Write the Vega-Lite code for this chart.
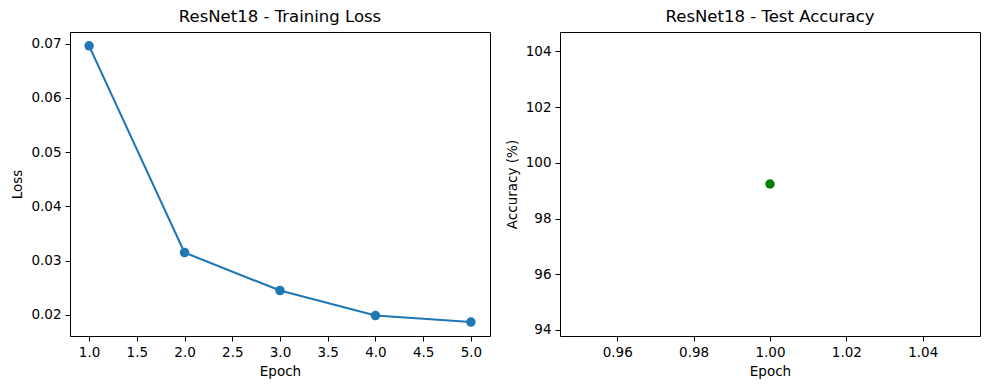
{
  "$schema": "https://vega.github.io/schema/vega-lite/v6.json",
  "padding": {"left": 10, "top": 8, "right": 10, "bottom": 5},
  "background": "white",
  "bounds": "flush",
  "spacing": 70,
  "config": {
    "font": "DejaVu Sans",
    "view": {"stroke": "black", "strokeWidth": 1},
    "axis": {
      "grid": false,
      "domain": false,
      "tickColor": "black",
      "tickSize": 5,
      "tickWidth": 1,
      "labelColor": "black",
      "labelFont": "DejaVu Sans",
      "labelFontSize": 13.5,
      "labelPadding": 4,
      "titleColor": "black",
      "titleFont": "DejaVu Sans",
      "titleFontSize": 13.5,
      "titleFontWeight": "normal",
      "titlePadding": 6,
      "labelFlush": false,
      "labelOverlap": false
    },
    "title": {"font": "DejaVu Sans", "fontSize": 16.5, "fontWeight": "normal", "color": "black", "anchor": "middle", "offset": 7}
  },
  "datasets": {
    "loss": [
      {"epoch": 1, "loss": 0.0696},
      {"epoch": 2, "loss": 0.0315},
      {"epoch": 3, "loss": 0.0245},
      {"epoch": 4, "loss": 0.0199},
      {"epoch": 5, "loss": 0.0187}
    ],
    "acc": [
      {"epoch": 1, "accuracy": 99.24}
    ]
  },
  "hconcat": [
    {
      "width": 420,
      "height": 304,
      "title": "ResNet18 - Training Loss",
      "data": {"name": "loss"},
      "encoding": {
        "x": {"field": "epoch", "type": "quantitative", "title": "Epoch",
          "scale": {"domain": [0.8, 5.2], "nice": false, "zero": false},
          "axis": {"values": [1, 1.5, 2, 2.5, 3, 3.5, 4, 4.5, 5], "format": ".1f"}},
        "y": {"field": "loss", "type": "quantitative", "title": "Loss",
          "scale": {"domain": [0.01613, 0.07215], "nice": false, "zero": false},
          "axis": {"values": [0.02, 0.03, 0.04, 0.05, 0.06, 0.07], "format": ".2f"}}
      },
      "layer": [
        {"mark": {"type": "line", "color": "#1f77b4", "strokeWidth": 2.1}},
        {"mark": {"type": "point", "filled": true, "shape": "circle", "size": 90, "color": "#1f77b4", "opacity": 1}}
      ]
    },
    {
      "width": 420,
      "height": 304,
      "title": "ResNet18 - Test Accuracy",
      "data": {"name": "acc"},
      "encoding": {
        "x": {"field": "epoch", "type": "quantitative", "title": "Epoch",
          "scale": {"domain": [0.945, 1.055], "nice": false, "zero": false},
          "axis": {"values": [0.96, 0.98, 1.0, 1.02, 1.04], "format": ".2f"}},
        "y": {"field": "accuracy", "type": "quantitative", "title": "Accuracy (%)",
          "scale": {"domain": [93.78, 104.70], "nice": false, "zero": false},
          "axis": {"values": [94, 96, 98, 100, 102, 104], "format": "d"}}
      },
      "layer": [
        {"mark": {"type": "point", "filled": true, "shape": "circle", "size": 90, "color": "#008000", "opacity": 1}}
      ]
    }
  ]
}
